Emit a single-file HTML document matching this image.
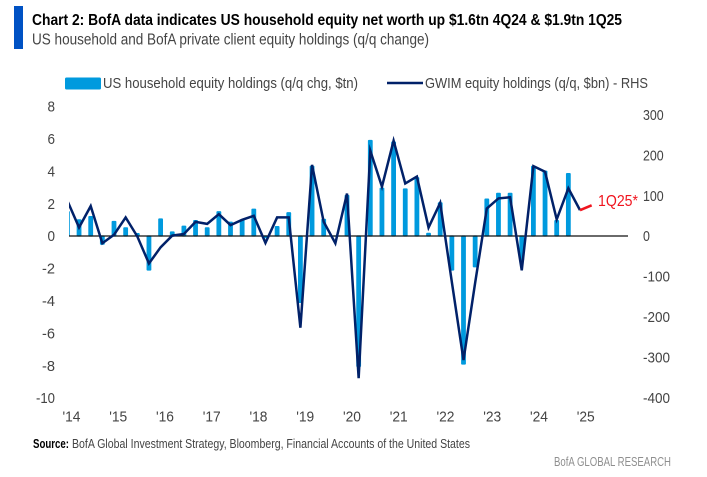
<!DOCTYPE html>
<html>
<head>
<meta charset="utf-8">
<title>Chart 2</title>
<style>
html,body{margin:0;padding:0;background:#fff;}
svg{display:block;font-family:"Liberation Sans",sans-serif;}
</style>
</head>
<body>
<svg id="chart" width="707" height="477" viewBox="0 0 707 477" xmlns="http://www.w3.org/2000/svg">
  <rect width="707" height="477" fill="#ffffff"/>
  <rect x="14" y="6" width="9" height="43" fill="#0052c4"/>
  <text x="32" y="25" font-size="16" font-weight="700" fill="#000000" textLength="590" lengthAdjust="spacingAndGlyphs">Chart 2: BofA data indicates US household equity net worth up $1.6tn 4Q24 &amp; $1.9tn 1Q25</text>
  <text x="32" y="44.5" font-size="15.5" fill="#444444" textLength="397" lengthAdjust="spacingAndGlyphs">US household and BofA private client equity holdings (q/q change)</text>

  <rect x="65" y="77.5" width="36" height="12" rx="1.5" fill="#009ade"/>
  <text x="103" y="88" font-size="15" fill="#444444" textLength="255" lengthAdjust="spacingAndGlyphs">US household equity holdings (q/q chg, $tn)</text>
  <line x1="387" y1="83" x2="423" y2="83" stroke="#012169" stroke-width="2.4"/>
  <text x="425" y="88" font-size="15" fill="#444444" textLength="223" lengthAdjust="spacingAndGlyphs">GWIM equity holdings (q/q, $bn) - RHS</text>

  <g id="plot"></g>

  <text x="33" y="448" font-size="12.5" font-weight="700" fill="#000000" textLength="36" lengthAdjust="spacingAndGlyphs">Source:</text>
  <text x="72" y="448" font-size="12.5" fill="#444444" textLength="398" lengthAdjust="spacingAndGlyphs">BofA Global Investment Strategy, Bloomberg, Financial Accounts of the United States</text>
  <text x="554" y="466" font-size="13" fill="#8f8f8f" textLength="117" lengthAdjust="spacingAndGlyphs">BofA GLOBAL RESEARCH</text>
</svg>
<script>
var householdChange = [1.5,1.0,1.2,-0.5,0.9,0.5,0.15,-2.1,1.05,0.25,0.6,0.95,0.5,1.5,0.85,1.0,1.65,-0.1,0.58,1.44,-4.1,4.3,1.03,0,2.5,-8.05,5.9,2.95,5.8,2.9,3.6,0.16,2.05,-2.1,-7.9,-1.9,2.28,2.63,2.63,-1.5,4.3,4.0,0.95,3.85];
var gwimChange = [87,21,74,-18,3,46,-1,-68,-28,1,5,35,30,54,27,40,50,-17,46,46,-227,176,35,-18,105,-352,211,122,236,130,147,21,82,-114,-307,-116,68,93,96,-85,173,159,41,118,64];
var estimateChange = [64,76];
var estimateLabel = '1Q25*';
var yearLabels = ["'14","'15","'16","'17","'18","'19","'20","'21","'22","'23","'24","'25"];
var leftTicks = [8,6,4,2,0,-2,-4,-6,-8,-10];
var rightTicks = [300,200,100,0,-100,-200,-300,-400];

var NS = 'http://www.w3.org/2000/svg';
var plot = document.getElementById('plot');
var zeroY = 236, unitLeft = 16.2, unitRight = 0.404;
var startX = 67.4, stepX = 11.65, clipX = 69, axisEndX = 628;
function xAt(i){ return startX + i * stepX; }
function yLeft(v){ return zeroY - v * unitLeft; }
function yRight(v){ return zeroY - v * unitRight; }
function make(tag, attrs, parent){
  var el = document.createElementNS(NS, tag);
  for (var k in attrs) el.setAttribute(k, attrs[k]);
  (parent || plot).appendChild(el);
  return el;
}
var defs = make('defs', {});
var clip = make('clipPath', {id: 'plot-clip'}, defs);
make('rect', {x: clipX, y: 90, width: 620, height: 320}, clip);

var bars = make('g', {'clip-path': 'url(#plot-clip)'});


householdChange.forEach(function(v, i){
  var y0 = yLeft(Math.max(v, 0)), y1 = yLeft(Math.min(v, 0));
  var b = make('rect', {x: xAt(i) - 2.4, y: y0 - 0.6, width: 4.8, height: (y1 - y0) + 1.2, rx: 1, fill: '#009ade'}, bars);
  
  
});

var zero = make('line', {x1: clipX, x2: axisEndX, y1: zeroY, y2: zeroY, stroke: '#111111', 'stroke-width': 1.3});



var pts = gwimChange.map(function(v, i){ return xAt(i).toFixed(2) + ',' + yRight(v).toFixed(2); }).join(' ');
var line = make('polyline', {points: pts, fill: 'none', stroke: '#012169', 'stroke-width': 2.5, 'stroke-linejoin': 'miter', 'stroke-miterlimit': 6, 'clip-path': 'url(#plot-clip)'});



var estPts = estimateChange.map(function(v, i){ return xAt(gwimChange.length - 1 + i).toFixed(2) + ',' + yRight(v).toFixed(2); }).join(' ');
var est = make('polyline', {points: estPts, fill: 'none', stroke: '#f0141e', 'stroke-width': 2.6});



var estText = make('text', {x: 598, y: 206, 'font-size': 15.5, fill: '#f0141e', textLength: 40, lengthAdjust: 'spacingAndGlyphs'});
estText.textContent = estimateLabel;



leftTicks.forEach(function(v){
  var s = String(v);
  var t = make('text', {x: 55, y: yLeft(v) + 5.2, 'font-size': 15, fill: '#444444', 'text-anchor': 'end', textLength: s.length === 3 ? 19 : (s.length === 2 ? 13 : 7.5), lengthAdjust: 'spacingAndGlyphs'});
  t.textContent = s;
  
  
});
rightTicks.forEach(function(v){
  var s = String(v);
  var t = make('text', {x: 643, y: yRight(v) + 5.2, 'font-size': 15, fill: '#444444', textLength: s.length * 6.9 - (v < 0 ? 0.6 : 0), lengthAdjust: 'spacingAndGlyphs'});
  t.textContent = s;
  
  
});
yearLabels.forEach(function(s, i){
  var t = make('text', {x: 71.5 + i * 46.75, y: 421.5, 'font-size': 15, fill: '#444444', 'text-anchor': 'middle', textLength: 18, lengthAdjust: 'spacingAndGlyphs'});
  t.textContent = s;
  
  
});
</script>
</body>
</html>
